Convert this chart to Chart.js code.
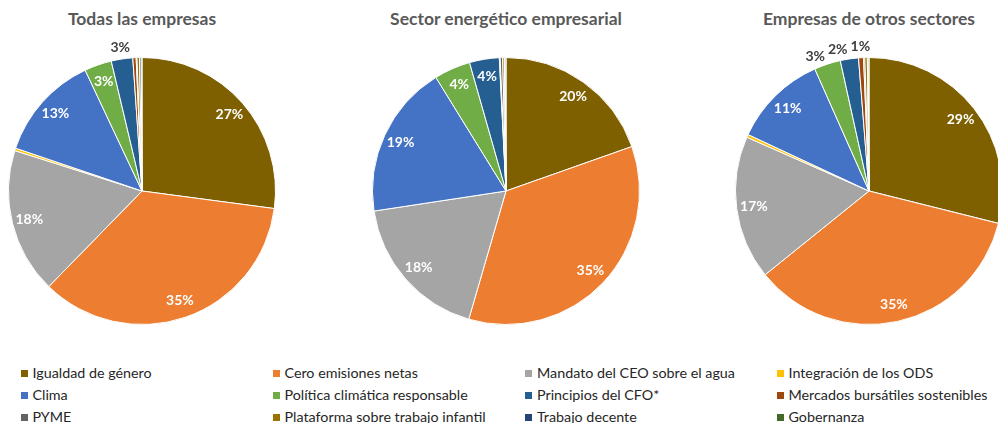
<!DOCTYPE html>
<html>
<head>
<meta charset="utf-8">
<script src="https://cdn.jsdelivr.net/npm/chart.js@4.4.1/dist/chart.umd.min.js"></script>
<style>
  html, body { margin: 0; padding: 0; background: #fff; }
  #wrap { position: relative; width: 998px; height: 423px; overflow: hidden; background: #fff; font-family: Lato, "Open Sans", sans-serif; }
  .title { position: absolute; top: 8px; width: 320px; text-align: center; font-weight: bold; font-size: 17.5px; color: #595959; z-index: 2; line-height: 22px; }
  canvas.pie { position: absolute; }
  .lg { position: absolute; font-size: 14.3px; color: #262626; white-space: nowrap; line-height: 16px; }
  .lg i { position: absolute; width: 7px; height: 7px; left: -12px; top: 5px; }
</style>
</head>
<body>
<div id="wrap"></div>
<script>
// ---- data ----
const categories = [
  "Igualdad de género", "Cero emisiones netas", "Mandato del CEO sobre el agua", "Integración de los ODS",
  "Clima", "Política climática responsable", "Principios del CFO*", "Mercados bursátiles sostenibles",
  "PYME", "Plataforma sobre trabajo infantil", "Trabajo decente", "Gobernanza"
];
const colors = [
  "#7F6000", "#ED7D31", "#A5A5A5", "#FFC000",
  "#4472C4", "#70AD47", "#255E91", "#9E480E",
  "#636363", "#997300", "#264478", "#43682B"
];
const chartTitles = ["Todas las empresas", "Sector energético empresarial", "Empresas de otros sectores"];
const seriesTodas   = [27.1, 35.2, 17.6, 0.3, 12.8, 3.3, 2.6, 0.4, 0.1, 0.3, 0.2, 0.1];
const seriesEnergia = [19.6, 34.9, 18.1, 0.0, 18.6, 4.4, 3.6, 0.1, 0.3, 0.2, 0.1, 0.1];
const seriesOtros   = [28.9, 35.3, 17.4, 0.35, 11.4, 3.2, 2.2, 0.6, 0.15, 0.3, 0.1, 0.1];
const allSeries = [seriesTodas, seriesEnergia, seriesOtros];

// ---- layout ----
const wrap = document.getElementById('wrap');
const centersX = [142, 506, 869];
const centerY = 191;
const CW = 320, PAD = 26;

const labelPlugin = {
  id: 'pctLabels',
  afterDatasetsDraw(chart) {
    const ctx = chart.ctx;
    const meta = chart.getDatasetMeta(0);
    const data = chart.data.datasets[0].data;
    const total = data.reduce((a, b) => a + b, 0);
    ctx.save();
    ctx.font = 'bold 14px Lato, "Open Sans", sans-serif';
    ctx.textAlign = 'center';
    ctx.textBaseline = 'middle';
    const outside = [];
    meta.data.forEach((arc, i) => {
      const p = arc.getProps(['x', 'y', 'startAngle', 'endAngle', 'outerRadius'], true);
      const pct = data[i] / total * 100;
      const txt = Math.round(pct) + '%';
      if (Math.round(pct) < 1) return;
      const mid = (p.startAngle + p.endAngle) / 2;
      if (pct >= 3.25) {
        const d = p.outerRadius * 0.87;
        ctx.fillStyle = '#ffffff';
        ctx.fillText(txt, p.x + Math.cos(mid) * d, p.y + Math.sin(mid) * d);
      } else {
        const R = p.outerRadius * 1.085;
        const w = ctx.measureText(txt).width;
        outside.push({ txt, w, mid, R, cx: p.x, cy: p.y, r: p.outerRadius,
          x: p.x + Math.cos(mid) * R, y: p.y + Math.sin(mid) * R, nx: p.x + Math.cos(mid) * R });
      }
    });
    outside.sort((a, b) => b.x - a.x);
    let prevLeft = Infinity;
    const gap = 3;
    outside.forEach(o => {
      if (o.x + o.w / 2 > prevLeft - gap) {
        o.x = prevLeft - gap - o.w / 2;
        const dx = o.x - o.cx;
        o.y = o.cy - Math.sqrt(Math.max(o.R * o.R - dx * dx, 0));
      }
      prevLeft = o.x - o.w / 2;
      if (o.nx - o.x > 8) {
        const ex = o.cx + Math.cos(o.mid) * o.r * 1.04;
        const ey = o.cy + Math.sin(o.mid) * o.r * 1.04;
        const sx = o.x + o.w / 2 + 1;
        if (ex - sx > 1) {
          ctx.strokeStyle = '#A6A6A6';
          ctx.lineWidth = 1;
          ctx.beginPath();
          ctx.moveTo(sx, o.y - 5);
          ctx.lineTo(ex, o.y - 5);
          ctx.lineTo(ex, ey);
          ctx.stroke();
        }
      }
      ctx.fillStyle = '#404040';
      ctx.fillText(o.txt, o.x, o.y);
    });
    ctx.restore();
  }
};

allSeries.forEach((series, k) => {
  const t = document.createElement('div');
  t.className = 'title';
  t.textContent = chartTitles[k];
  t.style.left = (centersX[k] - 160) + 'px';
  wrap.appendChild(t);

  const c = document.createElement('canvas');
  c.className = 'pie';
  c.width = CW; c.height = CW;
  c.style.width = CW + 'px'; c.style.height = CW + 'px';
  c.style.left = (centersX[k] - CW / 2) + 'px';
  c.style.top = (centerY - CW / 2) + 'px';
  wrap.appendChild(c);

  new Chart(c, {
    type: 'pie',
    data: {
      labels: categories,
      datasets: [{ data: series, backgroundColor: colors, borderColor: '#ffffff', borderWidth: 1 }]
    },
    options: {
      responsive: false,
      animation: false,
      devicePixelRatio: 1,
      layout: { padding: PAD },
      plugins: { legend: { display: false }, tooltip: { enabled: false }, title: { display: false } }
    },
    plugins: [labelPlugin]
  });
});

// ---- legend ----
const legendTextX = [32.5, 284.5, 537, 788.5];
const legendRowY = [372.5, 394.8, 417];
categories.forEach((name, i) => {
  const col = i % 4, row = Math.floor(i / 4);
  const d = document.createElement('div');
  d.className = 'lg';
  d.style.left = legendTextX[col] + 'px';
  d.style.top = (legendRowY[row] - 8) + 'px';
  const sq = document.createElement('i');
  sq.style.background = colors[i];
  d.appendChild(sq);
  d.appendChild(document.createTextNode(name));
  wrap.appendChild(d);
});
</script>
</body>
</html>
